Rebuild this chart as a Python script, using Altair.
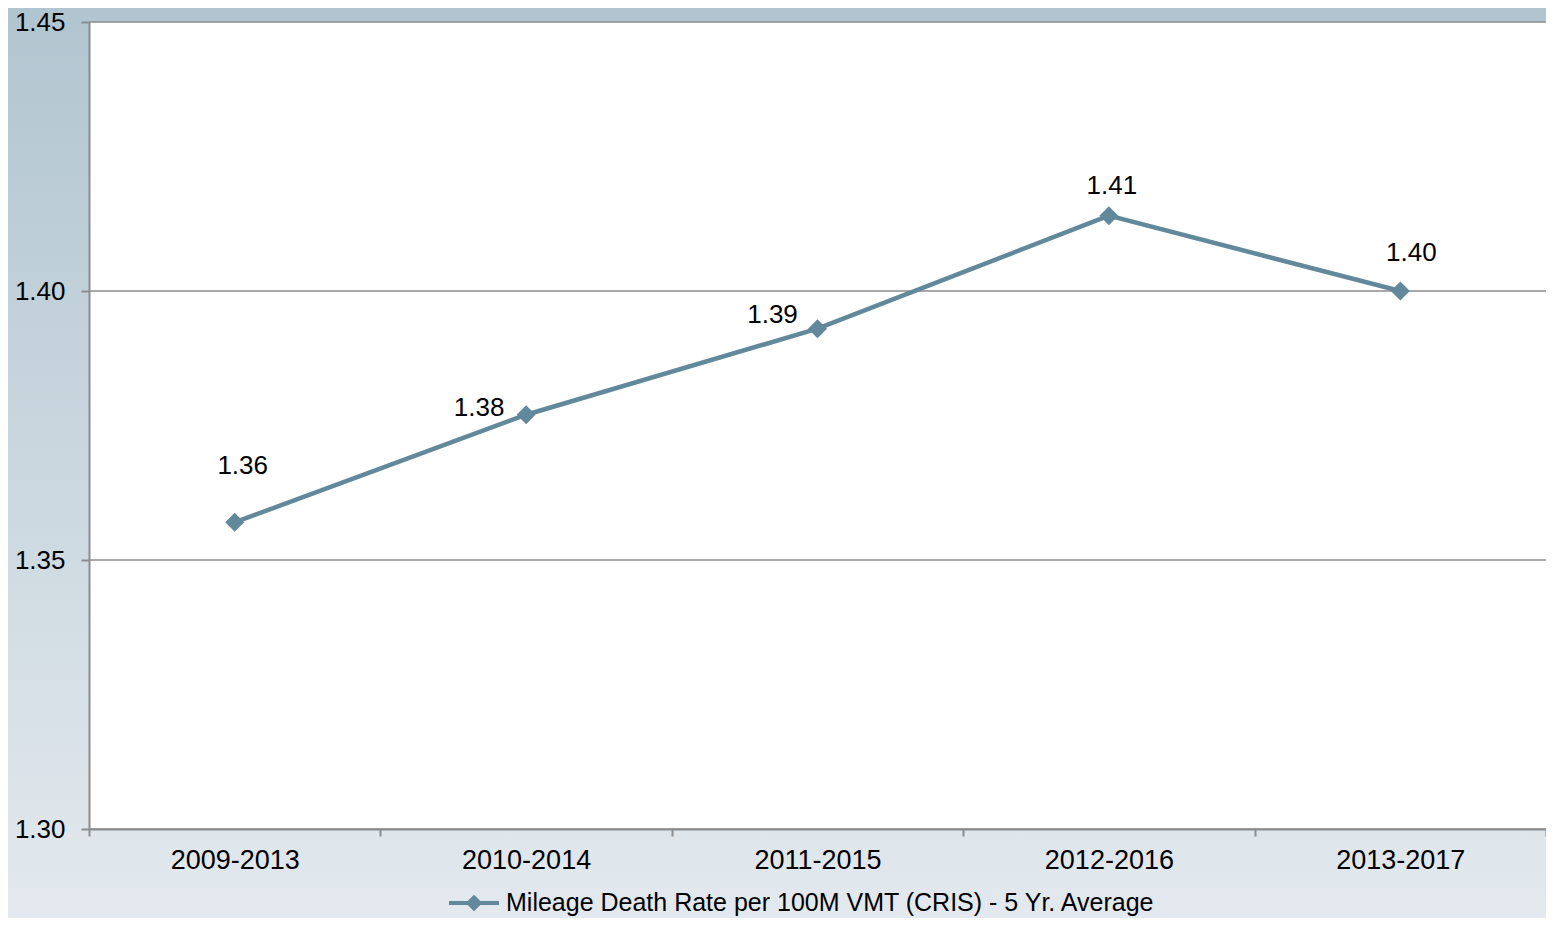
import altair as alt
import pandas as pd

# ---- data ----
periods = ["2009-2013", "2010-2014", "2011-2015", "2012-2016", "2013-2017"]
rates = [1.357, 1.377, 1.393, 1.414, 1.400]
label_text = ["1.36", "1.38", "1.39", "1.41", "1.40"]
y_ticks = [1.30, 1.35, 1.40, 1.45]
series_name = "Mileage Death Rate per 100M VMT (CRIS) - 5 Yr. Average"

df = pd.DataFrame({"period": periods, "rate": rates, "label": label_text,
                   "series": [series_name] * len(periods)})
grid_df = pd.DataFrame({"rate": y_ticks})

W, H = 1457, 807
PAD_L, PAD_T, PAD_R, PAD_B = 81, 14, 0, 89
LINE_COLOR = "#62889c"
FONT = "Liberation Sans"

x_enc = alt.X("period:N", sort=periods, title=None,
              scale=alt.Scale(type="band", paddingInner=0, paddingOuter=0, domain=periods),
              axis=alt.Axis(tickBand="extent", labelAngle=0, labelFontSize=27,
                            labelColor="#000000", labelFont=FONT, labelPadding=11,
                            tickSize=7, tickColor="#8c8c8c", tickWidth=2,
                            domainColor="#8c8c8c", domainWidth=2, grid=False,
                            zindex=1))
y_scale = alt.Scale(domain=[1.30, 1.45], nice=False, zero=False)
y_axis = alt.Axis(values=y_ticks, format=".2f", labelFontSize=26,
                  labelColor="#000000", labelFont=FONT, labelPadding=16,
                  tickSize=8, tickColor="#8c8c8c", tickWidth=2,
                  domainColor="#8c8c8c", domainWidth=2, grid=False,
                  zindex=1)
y_enc = alt.Y("rate:Q", scale=y_scale, title=None, axis=y_axis)

one = pd.DataFrame({"a": [0]})

bg = alt.Chart(one).mark_rect(
    clip=False,
    fill=alt.Gradient(gradient="linear",
                      stops=[alt.GradientStop(color="#b1c5d0", offset=0),
                             alt.GradientStop(color="#e3e9ee", offset=1)],
                      x1=0, x2=0, y1=0, y2=1)
).encode(x=alt.value(-PAD_L), x2=alt.value(W + PAD_R),
         y=alt.value(-PAD_T), y2=alt.value(H + PAD_B))

plot_bg = alt.Chart(one).mark_rect(fill="white").encode(
    x=alt.value(0), x2=alt.value(W), y=alt.value(0), y2=alt.value(H))

grid = alt.Chart(grid_df).mark_rule(color="#8c8c8c", strokeWidth=1.5).encode(
    y=y_enc)

line = alt.Chart(df).mark_line(strokeWidth=4.5).encode(
    x=x_enc, y=y_enc,
    color=alt.Color("series:N", scale=alt.Scale(range=[LINE_COLOR]),
                    legend=alt.Legend(
                        title=None, orient="none", legendX=358, legendY=854,
                        labelFontSize=25, labelFont=FONT, labelColor="#000000",
                        labelLimit=2000,
                        symbolType="M-1,0H1M0,-0.22L0.22,0L0,0.22L-0.22,0Z",
                        symbolSize=2500, symbolStrokeWidth=4,
                        symbolStrokeColor=LINE_COLOR, symbolFillColor=LINE_COLOR,
                        labelOffset=5)))

points = alt.Chart(df).mark_point(shape="diamond", filled=True, size=360,
                                  color=LINE_COLOR, opacity=1).encode(x=x_enc, y=y_enc)

offsets = {
    "2009-2013": (8, -56),
    "2010-2014": (-47, -7),
    "2011-2015": (-45, -14),
    "2012-2016": (3, -30),
    "2013-2017": (11, -38),
}
label_layers = []
for p in periods:
    dx, dy = offsets[p]
    label_layers.append(
        alt.Chart(df).transform_filter(alt.datum.period == p).mark_text(
            fontSize=26, font=FONT, color="#000000", dx=dx, dy=dy,
            baseline="middle", align="center").encode(
            x=x_enc, y=y_enc, text="label:N"))

chart = alt.layer(bg, plot_bg, grid, line, points, *label_layers).properties(
    width=W, height=H,
    autosize=alt.AutoSizeParams(type="none"),
    padding={"left": PAD_L, "top": PAD_T, "right": PAD_R, "bottom": PAD_B},
).configure_view(stroke=None, fill=None).configure(background="#e3e9ee")

chart.save("out.html", embed_options={"renderer": "svg", "actions": False})
